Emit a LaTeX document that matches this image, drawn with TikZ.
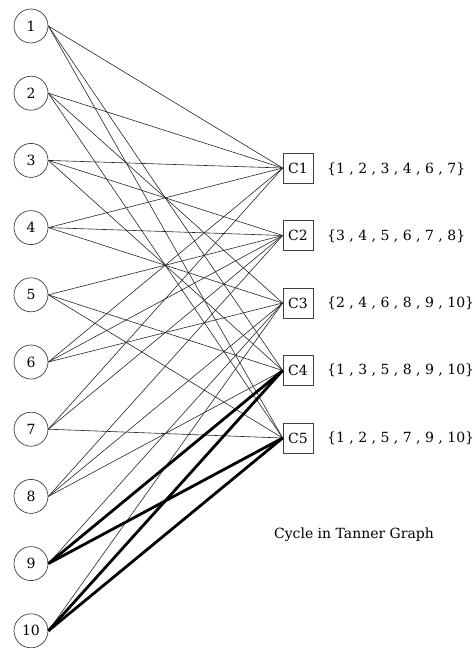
\documentclass[tikz,border=0pt]{standalone}
\usepackage{fontspec}
\setmainfont{DejaVu Serif}
\begin{document}
\begin{tikzpicture}[x=1pt,y=-1pt,
  vnode/.style={circle,draw=black!75,line width=0.7pt,minimum size=34pt,inner sep=0pt,font=\fontsize{14}{16}\selectfont},
  cnode/.style={rectangle,draw=black!75,line width=0.7pt,minimum size=30pt,inner sep=0pt,font=\fontsize{14}{16}\selectfont},
  lbl/.style={anchor=west,inner sep=0pt,font=\fontsize{14}{16}\selectfont},
  edge/.style={line width=0.6pt,black!85},
  bold/.style={line width=2.8pt,black}]
\useasboundingbox (0,0) rectangle (474,648);
\foreach \i in {1,...,10} {
  \node[vnode] (v\i) at (31,{26+67.2*(\i-1)}) {\i};
}
\foreach \j in {1,...,5} {
  \node[cnode] (c\j) at (298,{168+67.5*(\j-1)}) {C\j};
}
\node[lbl] (s1) at (327,169) {\{1 , 2 , 3 , 4 , 6 , 7\}};
\node[lbl] (s2) at (327,236) {\{3 , 4 , 5 , 6 , 7 , 8\}};
\node[lbl] (s3) at (327,303) {\{2 , 4 , 6 , 8 , 9 , 10\}};
\node[lbl] (s4) at (327,370) {\{1 , 3 , 5 , 8 , 9 , 10\}};
\node[lbl] (s5) at (327,438) {\{1 , 2 , 5 , 7 , 9 , 10\}};
\node[inner sep=0pt,font=\fontsize{14}{16}\selectfont] (cap) at (354,535) {Cycle in Tanner Graph};
\foreach \v in {1,2,3,4,6,7} \draw[edge] (v\v.east) -- (c1.west);
\foreach \v in {3,4,5,6,7,8} \draw[edge] (v\v.east) -- (c2.west);
\foreach \v in {2,4,6,8,9,10} \draw[edge] (v\v.east) -- (c3.west);
\foreach \v in {1,3,5,8} \draw[edge] (v\v.east) -- (c4.west);
\foreach \v in {1,2,5,7} \draw[edge] (v\v.east) -- (c5.west);
\draw[bold] (v9.east) -- (c4.west);
\draw[bold] (v9.east) -- (c5.west);
\draw[bold] (v10.east) -- (c4.west);
\draw[bold] (v10.east) -- (c5.west);
\end{tikzpicture}
\end{document}
